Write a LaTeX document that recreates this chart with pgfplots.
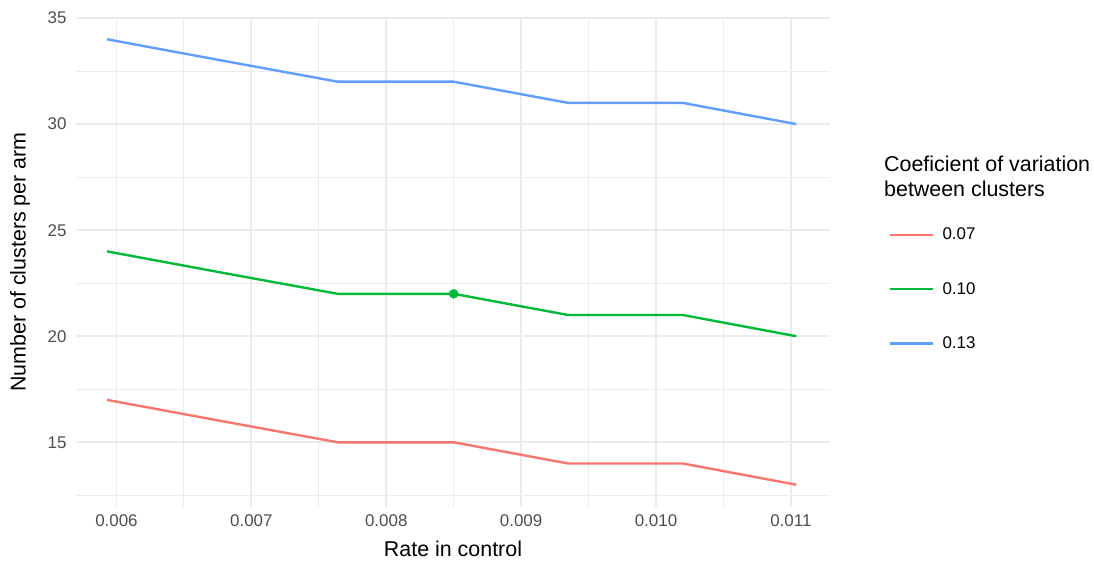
\documentclass[border=0pt]{standalone}
\usepackage{pgfplots}
\pgfplotsset{compat=1.18}
\usepackage{fontspec}
\setmainfont{Liberation Sans}
\definecolor{cred}{HTML}{F8766D}
\definecolor{cgreen}{HTML}{00BA38}
\definecolor{cblue}{HTML}{619CFF}
\definecolor{gridc}{HTML}{EBEBEB}
\definecolor{tickc}{HTML}{4D4D4D}
\begin{document}
\begin{tikzpicture}
\begin{axis}[
  at={(0,0)}, anchor=south west,
  scale only axis, width=754bp, height=490bp,
  xmin=0.0057, xmax=0.01129, ymin=11.95, ymax=35.05,
  scaled x ticks=false,
  xtick={0.006,0.007,0.008,0.009,0.010,0.011},
  xticklabels={0.006,0.007,0.008,0.009,0.010,0.011},
  ytick={15,20,25,30,35},
  minor xtick={0.0065,0.0075,0.0085,0.0095,0.0105},
  minor ytick={12.5,17.5,22.5,27.5,32.5},
  grid=both,
  major grid style={draw=gridc, line width=1.8bp},
  minor grid style={draw=gridc, line width=0.9bp},
  axis line style={draw=none},
  major tick length=0pt, minor tick length=0pt,
  tick label style={font=\fontsize{17}{19}\selectfont, text=tickc},
  xticklabel style={anchor=north, yshift=-4bp},
  yticklabel style={anchor=east, xshift=-6bp},
  /pgf/number format/assume math mode=true,
  xlabel={Rate in control},
  ylabel={Number of clusters per arm},
  label style={font=\fontsize{21.5}{24}\selectfont},
  xlabel style={at={(rel axis cs:0.5,-0.0857)}, anchor=center},
  ylabel style={at={(rel axis cs:-0.0743,0.5)}, anchor=center},
  legend image code/.code={\draw[#1] (0bp,0bp) -- (43bp,0bp); \path (49bp,0bp);},
  legend style={draw=none, fill=none, inner sep=0pt, at={(rel axis cs:1.0782,0.5735)}, anchor=north west,
    font=\fontsize{17}{19}\selectfont, row sep=37bp, cells={anchor=west}},
  clip=false,
]
\addplot[cred, line width=2.4bp, forget plot] coordinates {
 (0.00593,17) (0.00678,16) (0.00764,15) (0.00850,15) (0.00935,14) (0.01020,14) (0.01104,13)};
\addplot[cgreen, line width=2.4bp, forget plot] coordinates {
 (0.00593,24) (0.00678,23) (0.00764,22) (0.00850,22) (0.00935,21) (0.01020,21) (0.01104,20)};
\addplot[cblue, line width=2.4bp, forget plot] coordinates {
 (0.00593,34) (0.00678,33) (0.00764,32) (0.00850,32) (0.00935,31) (0.01020,31) (0.01104,30)};
\addplot[cgreen, only marks, mark=*, mark size=4.5bp, forget plot] coordinates {(0.00850,22)};
\addlegendimage{cred, line width=2.4bp}
\addlegendentry{0.07}
\addlegendimage{cgreen, line width=2.4bp}
\addlegendentry{0.10}
\addlegendimage{cblue, line width=2.4bp}
\addlegendentry{0.13}
\node[anchor=north west, align=left, font=\fontsize{21.5}{25}\selectfont, inner sep=0pt]
  at (rel axis cs:1.0716,0.716) {Coeficient of variation\\between clusters};
\end{axis}
\path[use as bounding box] (-76bp,-55bp) rectangle (1018bp,507bp);
\end{tikzpicture}
\end{document}
